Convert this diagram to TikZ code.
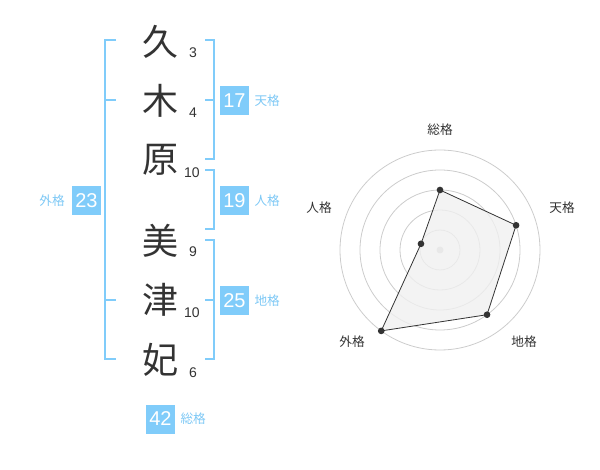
\documentclass[tikz,border=0pt]{standalone}
\usepackage{fontspec}
\setmainfont{Liberation Sans}
\newfontfamily\cjk{Noto Sans CJK JP}
\usetikzlibrary{positioning}

\definecolor{kakublue}{RGB}{128,204,250}
\definecolor{labelblue}{RGB}{125,200,245}
\definecolor{inkgray}{RGB}{51,51,51}
\definecolor{ringgray}{RGB}{204,204,204}

\begin{document}
\begin{tikzpicture}[x=0.75pt,y=-0.75pt,
  kanji/.style={font=\cjk\fontsize{27}{27}\selectfont,text=inkgray,inner sep=0pt},
  strokes/.style={font=\fontsize{10.5}{10.5}\selectfont,text=inkgray,inner sep=0pt},
  kakubox/.style={fill=kakublue,text=white,minimum size=21.75pt,inner sep=0pt,
    font=\fontsize{15}{15}\selectfont},
  kakulabel/.style={font=\cjk\fontsize{9.5}{9.5}\selectfont,text=labelblue,inner sep=0pt},
  bracket/.style={draw=kakublue,line width=1.5pt},
  axislabel/.style={font=\cjk\fontsize{9.5}{9.5}\selectfont,text=inkgray,inner sep=0pt},
  ring/.style={draw=ringgray,line width=0.6pt},
  dot/.style={circle,fill=inkgray,inner sep=0pt,minimum size=5pt}]

  \useasboundingbox (0,0) rectangle (600,470);

  % name
  \node[kanji] (k1) at (160,42) {久};
  \node[kanji] (k2) at (160,101) {木};
  \node[kanji] (k3) at (160,160) {原};
  \node[kanji] (k4) at (160,241) {美};
  \node[kanji] (k5) at (160,300) {津};
  \node[kanji] (k6) at (160,360) {妃};

  \node[strokes] (s1) at (193,53) {3};
  \node[strokes] (s2) at (193,113) {4};
  \node[strokes] (s3) at (192,173) {10};
  \node[strokes] (s4) at (193,252) {9};
  \node[strokes] (s5) at (192,313) {10};
  \node[strokes] (s6) at (193,373) {6};

  % brackets
  \coordinate (t1) at (205,40);  \coordinate (t2) at (214,40);
  \coordinate (t3) at (214,159); \coordinate (t4) at (205,159);
  \coordinate (t5) at (205,100); \coordinate (t6) at (214,100);
  \draw[bracket] (t1) -- (t2) -- (t3) -- (t4) (t5) -- (t6);

  \coordinate (j1) at (205,170); \coordinate (j2) at (214,170);
  \coordinate (j3) at (214,229); \coordinate (j4) at (205,229);
  \draw[bracket] (j1) -- (j2) -- (j3) -- (j4);

  \coordinate (c1) at (205,240); \coordinate (c2) at (214,240);
  \coordinate (c3) at (214,359); \coordinate (c4) at (205,359);
  \coordinate (c5) at (205,300); \coordinate (c6) at (214,300);
  \draw[bracket] (c1) -- (c2) -- (c3) -- (c4) (c5) -- (c6);

  \coordinate (g1) at (116,40);  \coordinate (g2) at (105,40);
  \coordinate (g3) at (105,359); \coordinate (g4) at (116,359);
  \coordinate (g5) at (105,100); \coordinate (g6) at (116,100);
  \coordinate (g7) at (105,300); \coordinate (g8) at (116,300);
  \draw[bracket] (g1) -- (g2) -- (g3) -- (g4) (g5) -- (g6) (g7) -- (g8);

  % scores
  \node[kakubox] (ten) at (234.5,100.5) {17};
  \node[kakulabel,right=3.75pt of ten] (tenl) {天格};
  \node[kakubox] (jin) at (234.5,200.5) {19};
  \node[kakulabel,right=3.75pt of jin] (jinl) {人格};
  \node[kakubox] (chi) at (234.5,300.5) {25};
  \node[kakulabel,right=3.75pt of chi] (chil) {地格};
  \node[kakubox] (gai) at (86.5,200.5) {23};
  \node[kakulabel,left=5pt of gai] (gail) {外格};
  \node[kakubox] (sou) at (160.5,419) {42};
  \node[kakulabel,right=3.75pt of sou] (soul) {総格};

  % radar chart
  \begin{scope}[shift={(440,250)}]
    \foreach \r in {20,40,...,100}
      \draw[ring] (0,0) circle[radius=\r];
    \fill[ringgray] (0,0) circle[radius=3.5];
    \node[axislabel] (a1) at (0,-120) {総格};
    \node[axislabel] (a2) at (122,-42) {天格};
    \node[axislabel] (a3) at (84,92) {地格};
    \node[axislabel] (a4) at (-88,92) {外格};
    \node[axislabel] (a5) at (-121,-42) {人格};
    \coordinate (p1) at (-90:60);
    \coordinate (p2) at (-18:80);
    \coordinate (p3) at (54:80);
    \coordinate (p4) at (126:100);
    \coordinate (p5) at (198:20);
    \filldraw[fill=black!6,fill opacity=0.8,draw=inkgray,line width=0.6pt]
      (p1) -- (p2) -- (p3) -- (p4) -- (p5) -- cycle;
    \foreach \p in {p1,p2,p3,p4,p5}
      \node[dot] at (\p) {};
  \end{scope}
\end{tikzpicture}
\end{document}
